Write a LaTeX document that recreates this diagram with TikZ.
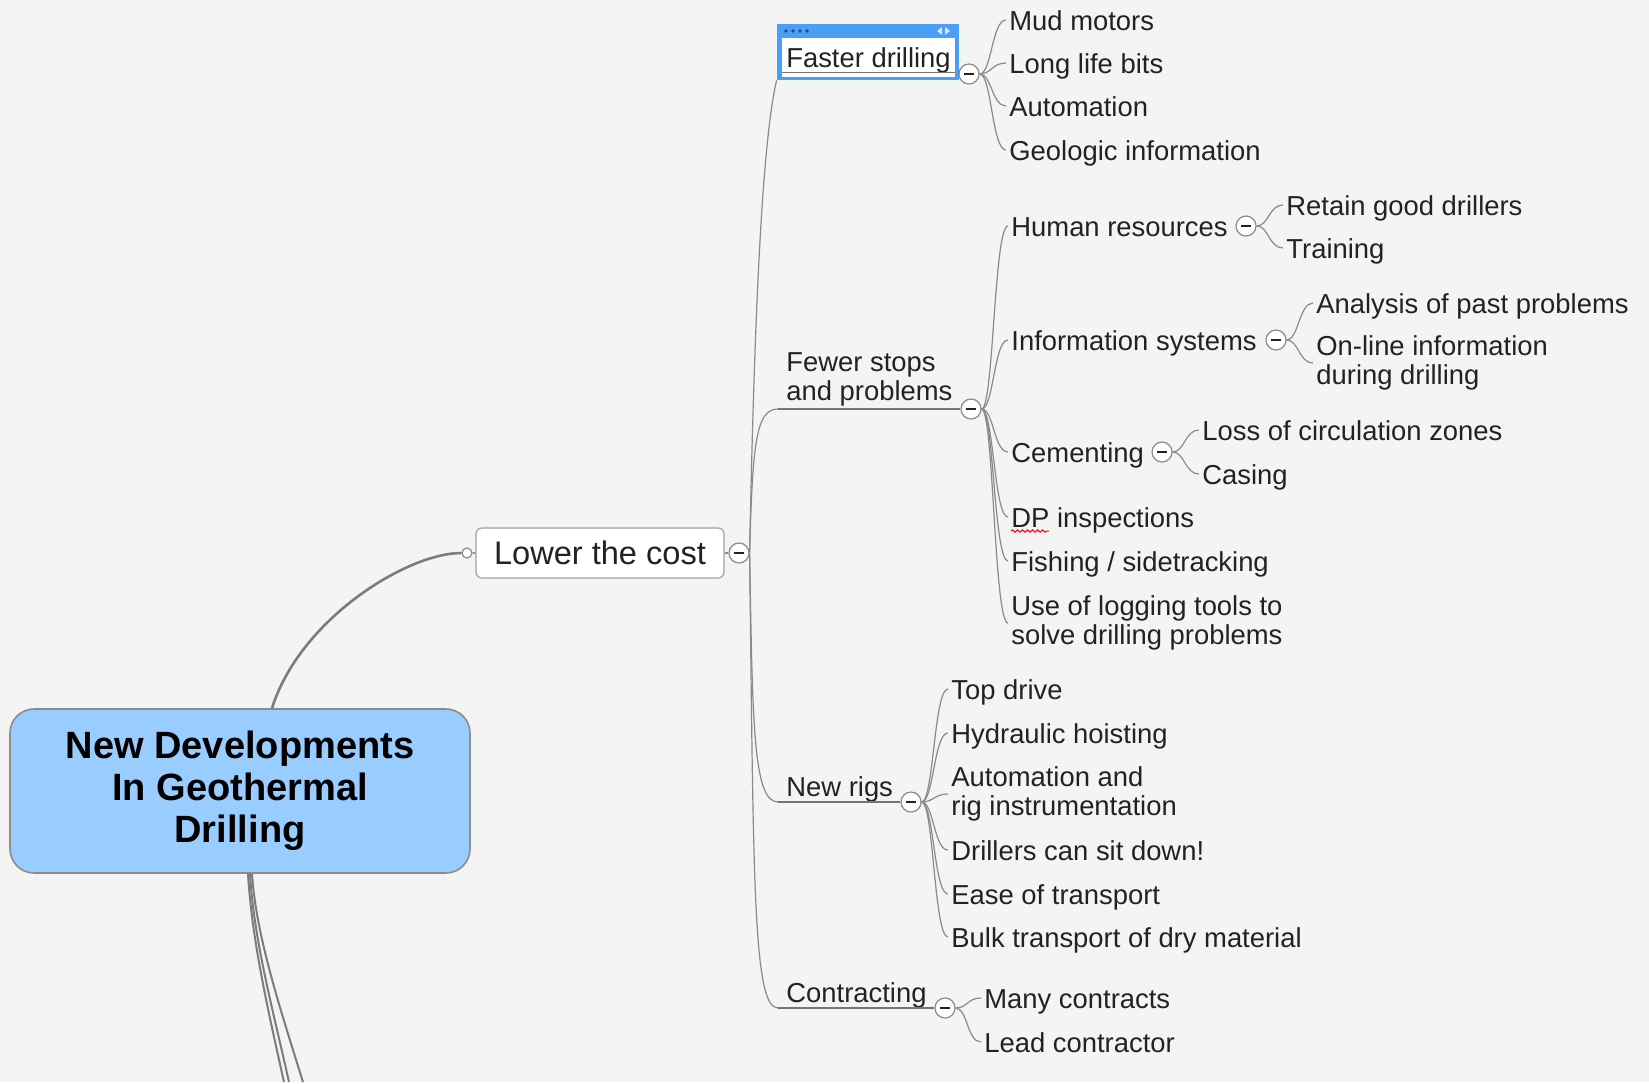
\documentclass[tikz,border=0pt]{standalone}
\usepackage{fontspec}
\setmainfont{Liberation Sans}
\usepackage{tikz}
\usetikzlibrary{decorations.pathmorphing}
\definecolor{mapbg}{HTML}{F4F4F4}
\definecolor{mapline}{HTML}{8A8A8A}
\definecolor{maptext}{HTML}{222222}
\definecolor{rootblue}{HTML}{99CCFF}
\definecolor{rootedge}{HTML}{8C8C8C}
\definecolor{selblue}{HTML}{4A9EF5}
\definecolor{seldot}{HTML}{1E4A8C}

\begin{document}
\begin{tikzpicture}[
    x=0.5pt, y=-0.5pt,
    link/.style={draw=mapline, line width=0.6pt},
    underl/.style={draw=mapline!85!black, line width=0.8pt},
    rootlink/.style={draw=mapline!90!black, line width=1.3pt},
    offlink/.style={draw=mapline!90!black, line width=1pt},
    rootbox/.style={draw=rootedge, fill=rootblue, line width=0.8pt, rounded corners=12pt,
                    minimum width=230pt, minimum height=82pt, align=center,
                    font=\fontsize{19}{21}\selectfont\bfseries},
    lowbox/.style={draw=mapline!80, fill=white, line width=0.6pt, rounded corners=3pt,
                   minimum width=124pt, minimum height=25pt, text=maptext,
                   font=\fontsize{16.3}{18}\selectfont},
    knob/.style={circle, draw=mapline, fill=white, line width=0.6pt, minimum size=5pt, inner sep=0pt},
    tog/.style={circle, draw=mapline, fill=white, line width=0.6pt, minimum size=10pt, inner sep=0pt,
                path picture={\draw[line width=0.9pt, maptext]
                  ([xshift=-2.6pt]path picture bounding box.center) -- ([xshift=2.6pt]path picture bounding box.center);}},
    leafbase/.style={font=\fontsize{13.7}{14.5}\selectfont, text=maptext, anchor=west,
                     inner xsep=1.5pt, inner ysep=0pt},
    leaf/.style={leafbase, text height=11pt, text depth=1pt},
    leaftwo/.style={leafbase, align=left},
    topic/.style={leafbase, inner xsep=4pt, align=left},
    selframe/.style={fill=selblue, minimum width=91pt, minimum height=28pt, inner sep=0pt},
    selinner/.style={fill=white, minimum width=86.5pt, minimum height=19.5pt, inner sep=0pt,
                     text height=11pt, text depth=1pt, text=maptext,
                     font=\fontsize{13.7}{14.5}\selectfont},
]
    \fill[mapbg] (0,0) rectangle (1649,1082);

    \node[rootbox] (root) at (240,791) {New Developments\\In Geothermal\\Drilling};
    \node[lowbox] (low) at (600,553) {Lower the cost};
    \node[knob] (lowdot) at (467,553) {};
    \node[tog] (lowc) at (739,553) {};

    \coordinate (offa) at (284,1082);
    \coordinate (offb) at (289,1082);
    \coordinate (offc) at (303,1082);

    \draw[rootlink] ([xshift=16pt]root.north) .. controls +(28,-89) and +(-60,0) .. (lowdot);
    \draw[offlink] ([xshift=4pt]root.south) .. controls +(4,67) and +(-16,-72) .. (offa);
    \draw[offlink] ([xshift=5pt]root.south) .. controls +(4,67) and +(-16,-72) .. (offb);
    \draw[offlink] ([xshift=6pt]root.south) .. controls +(4,60) and +(-25,-80) .. (offc);
    \draw[link] (lowdot) -- (low);
    \draw[link] (low) -- (lowc);

    \node[selframe] (fastersel) at (868,52) {};
    \node[selinner] (faster) at (868.5,57.5) {Faster drilling};
    \draw[underl] ([yshift=2.5pt]faster.south west) -- ([yshift=2.5pt]faster.south east);
    \foreach \dx in {0,7,14,21}
        \fill[seldot] (786+\dx,31) circle (0.9pt);
    \fill[white!75!selblue] (942,27) -- (937,31) -- (942,35) -- cycle;
    \fill[white!75!selblue] (945,27) -- (950,31) -- (945,35) -- cycle;
    \node[tog] (fasterc) at (969,74) {};

    \node[topic] (fewer) at (778,379) {Fewer stops\\and problems};
    \node[tog] (fewerc) at (971,409) {};
    \node[topic] (newrigs) at (778,789) {New rigs};
    \node[tog] (nrc) at (911,802) {};
    \node[topic] (contract) at (778,995) {Contracting};
    \node[tog] (conc) at (945,1008) {};

    \draw[link] (lowc.east) .. controls +(5,-250) and +(-14,60) .. (fastersel.south west);
    \draw[link] (lowc.east) .. controls +(3,-110) and +(-22,0) .. (fewer.west |- fewerc);
    \draw[link] (lowc.east) .. controls +(3,170) and +(-25,0) .. (newrigs.west |- nrc);
    \draw[link] (lowc.east) .. controls +(4,330) and +(-25,0) .. (contract.west |- conc);
    \draw[underl] (fewer.west |- fewerc) -- (fewerc);
    \draw[underl] (newrigs.west |- nrc) -- (nrc);
    \draw[underl] (contract.west |- conc) -- (conc);

    \node[leaf] (mud) at (1006,20) {Mud motors};
    \node[leaf] (bits) at (1006,63) {Long life bits};
    \node[leaf] (auto) at (1006,106) {Automation};
    \node[leaf] (geo) at (1006,150) {Geologic information};
    \foreach \n in {mud,bits,auto,geo}
        \draw[link] (fasterc.east) .. controls +(12,0) and +(-14,0) .. (\n.west);

    \node[leaf] (hr) at (1008,226) {Human resources};
    \node[leaf] (infosys) at (1008,340) {Information systems};
    \node[leaf] (cement) at (1008,452) {Cementing};
    \node[leaf] (dp) at (1008,517) {DP inspections};
    \node[leaf] (fishing) at (1008,561) {Fishing / sidetracking};
    \node[leaftwo] (logging) at (1008,623) {Use of logging tools to\\solve drilling problems};
    \foreach \n in {hr,infosys,cement,dp,fishing,logging}
        \draw[link] (fewerc.east) .. controls +(12,0) and +(-14,0) .. (\n.west);
    \draw[red, line width=0.5pt, decorate, decoration={snake, amplitude=0.6pt, segment length=2.5pt}]
        ([xshift=1.5pt, yshift=-7pt]dp.west) -- ++(38,0);

    \node[tog] (hrc) at (1246,226) {};
    \node[leaf] (retain) at (1283,205) {Retain good drillers};
    \node[leaf] (train) at (1283,248) {Training};
    \node[tog] (isc) at (1276,340) {};
    \node[leaf] (analysis) at (1313,303) {Analysis of past problems};
    \node[leaftwo] (online) at (1313,363) {On-line information\\during drilling};
    \node[tog] (cemc) at (1162,452) {};
    \node[leaf] (loss) at (1199,430) {Loss of circulation zones};
    \node[leaf] (casing) at (1199,474) {Casing};
    \foreach \n in {retain,train}
        \draw[link] (hrc.east) .. controls +(12,0) and +(-14,0) .. (\n.west);
    \foreach \n in {analysis,online}
        \draw[link] (isc.east) .. controls +(12,0) and +(-14,0) .. (\n.west);
    \foreach \n in {loss,casing}
        \draw[link] (cemc.east) .. controls +(12,0) and +(-14,0) .. (\n.west);

    \node[leaf] (topdrive) at (948,689) {Top drive};
    \node[leaf] (hoist) at (948,733) {Hydraulic hoisting};
    \node[leaftwo] (instr) at (948,794) {Automation and\\rig instrumentation};
    \node[leaf] (sitdown) at (948,850) {Drillers can sit down!};
    \node[leaf] (easetr) at (948,894) {Ease of transport};
    \node[leaf] (bulk) at (948,937) {Bulk transport of dry material};
    \foreach \n in {topdrive,hoist,instr,sitdown,easetr,bulk}
        \draw[link] (nrc.east) .. controls +(12,0) and +(-14,0) .. (\n.west);

    \node[leaf] (many) at (981,998) {Many contracts};
    \node[leaf] (lead) at (981,1042) {Lead contractor};
    \foreach \n in {many,lead}
        \draw[link] (conc.east) .. controls +(12,0) and +(-14,0) .. (\n.west);
\end{tikzpicture}
\end{document}
